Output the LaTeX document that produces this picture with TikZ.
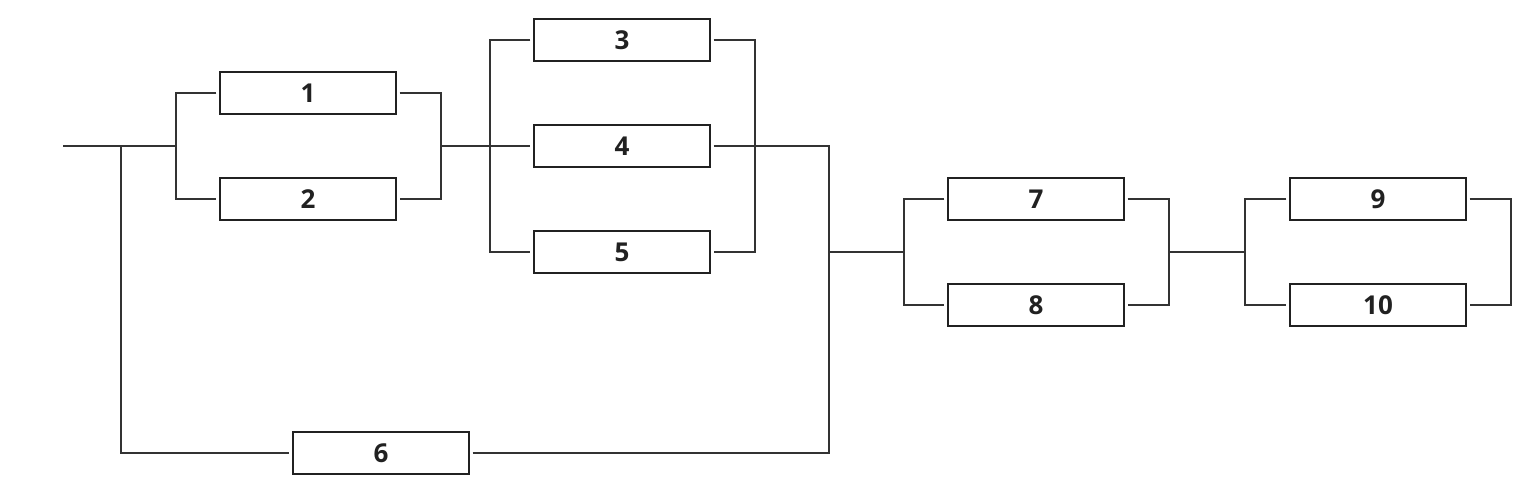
\documentclass[tikz,border=0pt]{standalone}
\usepackage{fontspec}
\setmainfont{Open Sans}
\usetikzlibrary{positioning}

\begin{document}
\begin{tikzpicture}[x=0.5pt, y=-0.5pt,
  block/.style={draw=black!87, line width=1.3pt, minimum width=88pt, minimum height=21pt, inner sep=0pt, outer sep=1.8pt, font=\bfseries\fontsize{13}{15}\selectfont, text=black!87},
  wire/.style={line width=1.1pt, draw=black!80}]

    \useasboundingbox (0,0) rectangle (1539,483);

    \node[block] (b1) at (308,93) {1};
    \node[block] (b2) at (308,199) {2};
    \node[block] (b3) at (622,40) {3};
    \node[block] (b4) at (622,146) {4};
    \node[block] (b5) at (622,252) {5};
    \node[block] (b6) at (381,453) {6};
    \node[block] (b7) at (1036,199) {7};
    \node[block] (b8) at (1036,305) {8};
    \node[block] (b9) at (1378,199) {9};
    \node[block] (b10) at (1378,305) {10};

    \coordinate (in) at (63,146);
    \coordinate (split0) at (121,146);
    \coordinate (split1) at (176,146);
    \coordinate (join1) at (441,146);
    \coordinate (split2) at (490,146);
    \coordinate (join2) at (755,146);
    \coordinate (join3) at (829,252);
    \coordinate (split3) at (904,252);
    \coordinate (join4) at (1169,252);
    \coordinate (split4) at (1245,252);
    \coordinate (join5) at (1511,252);

    \draw[wire] (in) -- (split1);
    \draw[wire] (b1.west) -| (split1) |- (b2.west);
    \draw[wire] (b1.east) -| (join1) |- (b2.east);
    \draw[wire] (join1) -- (b4.west);

    \draw[wire] (b3.west) -| (split2) |- (b5.west);
    \draw[wire] (b3.east) -| (join2) |- (b5.east);
    \draw[wire] (b4.east) -| (join3);

    \draw[wire] (split0) |- (b6.west);
    \draw[wire] (b6.east) -| (join3);

    \draw[wire] (join3) -- (split3);
    \draw[wire] (b7.west) -| (split3) |- (b8.west);
    \draw[wire] (b7.east) -| (join4) |- (b8.east);

    \draw[wire] (join4) -- (split4);
    \draw[wire] (b9.west) -| (split4) |- (b10.west);
    \draw[wire] (b9.east) -| (join5) |- (b10.east);
\end{tikzpicture}
\end{document}
